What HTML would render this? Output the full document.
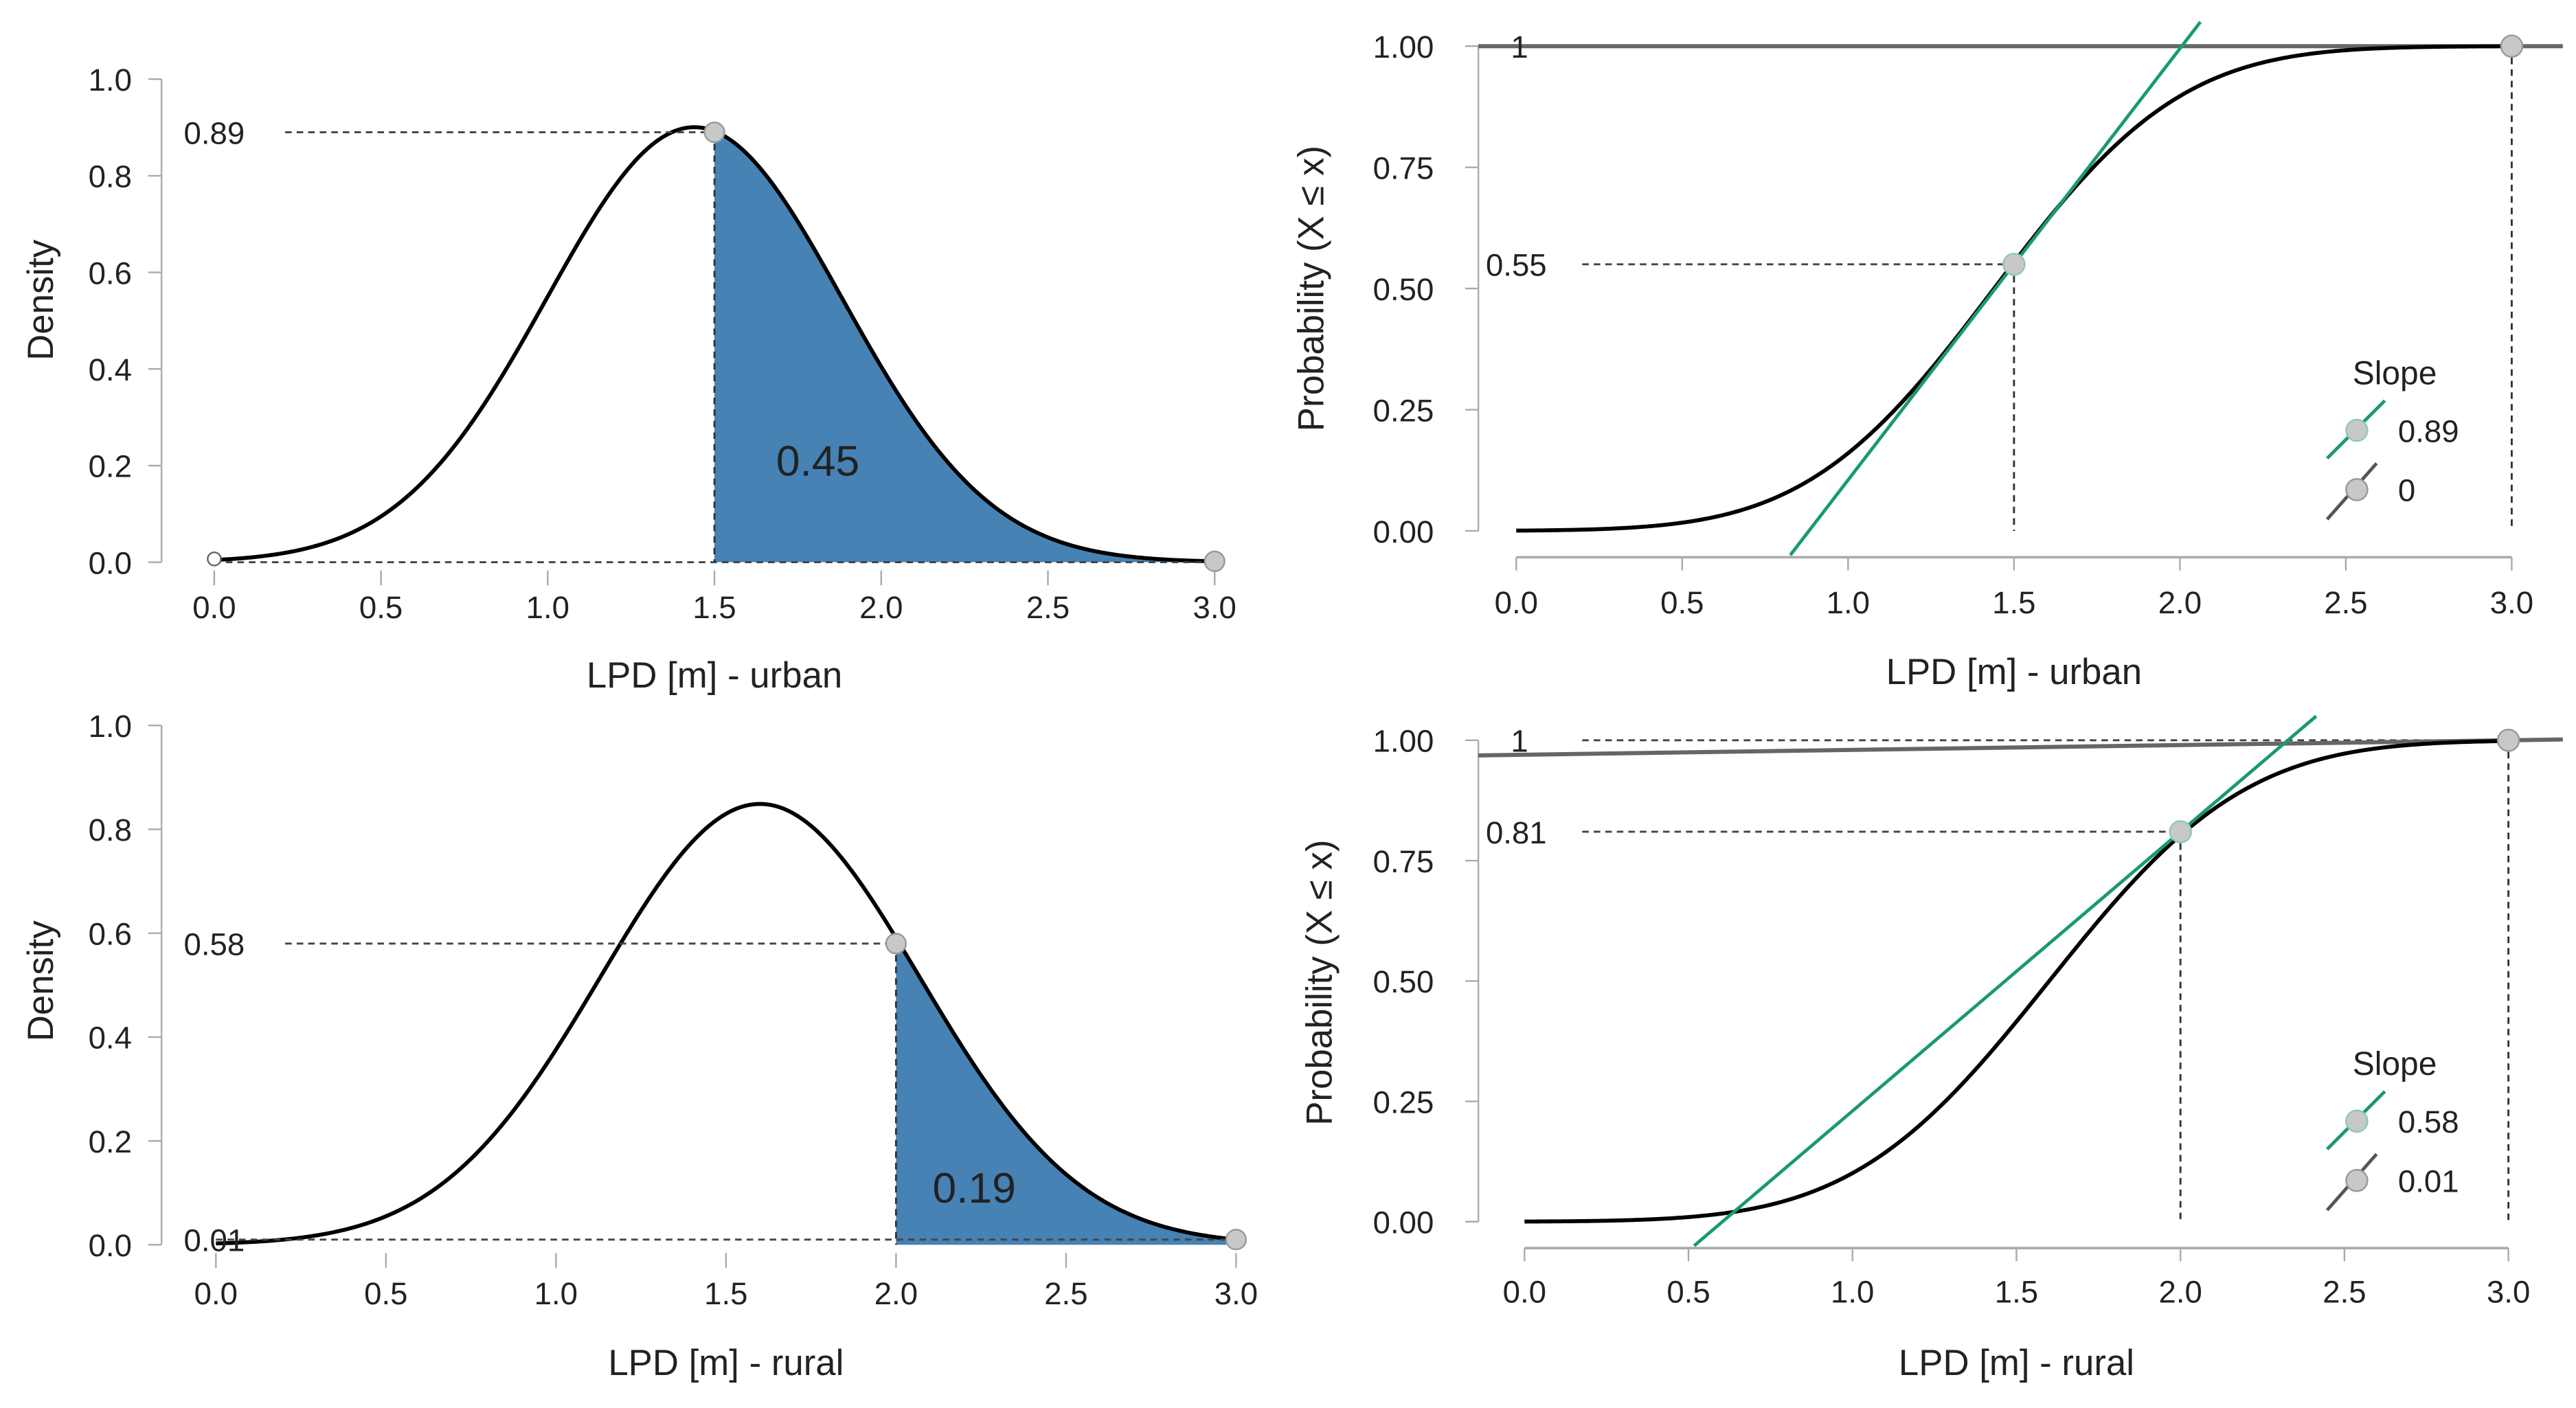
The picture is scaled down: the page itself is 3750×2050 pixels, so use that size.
<!DOCTYPE html>
<html><head><meta charset="utf-8"><style>
html,body{margin:0;padding:0;background:#fff;}
svg{display:block;}
text{font-family:"Liberation Sans",sans-serif;fill:#222;}
</style></head><body>
<svg id="fig" width="3750" height="2050" viewBox="0 0 1563 854" preserveAspectRatio="none" xmlns="http://www.w3.org/2000/svg"></svg>
<script>
// ---- data ----
const xTicks = [0, 0.5, 1.0, 1.5, 2.0, 2.5, 3.0];
const xTickLabels = ["0.0","0.5","1.0","1.5","2.0","2.5","3.0"];
const densTicks = [0, 0.2, 0.4, 0.6, 0.8, 1.0];
const densTickLabels = ["0.0","0.2","0.4","0.6","0.8","1.0"];
const probTicks = [0, 0.25, 0.5, 0.75, 1.0];
const probTickLabels = ["0.00","0.25","0.50","0.75","1.00"];
const panelNames = ["urban","rural"];
const distMean = [1.44, 1.6];
const distSd = [0.443, 0.47];
const markX = [1.5, 2.0];
const markDensity = [0.89, 0.58];
const markArea = [0.45, 0.19];
const areaLabelX = [1.81, 2.23];
const areaLabelY = [0.21, 0.11];
const markCdf = [0.55, 0.81];
const slopeValues = [0.89, 0.58];
const flatSlope = [0, 0.01];
const endDensity = [0, 0.01];

const svg = document.getElementById('fig');
const NS = 'http://www.w3.org/2000/svg';
function mk(tag, attrs, parent, text){
  const e = document.createElementNS(NS, tag);
  for (const k in attrs) e.setAttribute(k, attrs[k]);
  if (text !== undefined) e.textContent = text;
  (parent || svg).appendChild(e);
  return e;
}
function pdf(x,m,s){return Math.exp(-(x-m)*(x-m)/(2*s*s))/(s*Math.sqrt(2*Math.PI));}
function erf(x){const t=1/(1+0.3275911*Math.abs(x));const y=1-(((((1.061405429*t-1.453152027)*t)+1.421413741)*t-0.284496736)*t+0.254829592)*t*Math.exp(-x*x);return x>=0?y:-y;}
function cdf(x,m,s){return 0.5*(1+erf((x-m)/(s*Math.SQRT2)));}

const densLayout = [
  {axX:98, y0:341, y1:48, x0:130, x3:737, tickY:368, titleY:417, ylabX:32, ylabY:182},
  {axX:98, y0:755, y1:440, x0:131, x3:750, tickY:784, titleY:834, ylabX:32, ylabY:595}
];
const cdfLayout = [
  {axX:897, y0:322, y1:28, x0:920, x3:1524, axisY:338, tickY:365, titleY:415, ylabX:803, ylabY:175, legY:226},
  {axX:897, y0:741, y1:449, x0:925, x3:1522, axisY:757, tickY:783, titleY:834, ylabX:808, ylabY:596, legY:645}
];

function drawDensity(i){
  const L = densLayout[i];
  const g = mk('g', {}, svg);
  
  
  const sx = v => L.x0 + v/3*(L.x3-L.x0);
  const sy = v => L.y0 - v*(L.y0-L.y1);
  const ya = mk('line', {x1:L.axX,y1:sy(1),x2:L.axX,y2:sy(0),stroke:'#aaa','stroke-width':1}, g);
   
  densTicks.forEach((t,k)=>{
    mk('line',{x1:L.axX-8,y1:sy(t),x2:L.axX,y2:sy(t),stroke:'#aaa','stroke-width':1},g);
    const tx = mk('text',{x:L.axX-18,y:sy(t)+7,'text-anchor':'end','font-size':19},g,densTickLabels[k]);
     
  });
  xTicks.forEach((t,k)=>{
    mk('line',{x1:sx(t),y1:L.y0+5,x2:sx(t),y2:L.y0+14,stroke:'#aaa','stroke-width':1},g);
    const tx = mk('text',{x:sx(t),y:L.tickY+7,'text-anchor':'middle','font-size':19},g,xTickLabels[k]);
     
  });
  let d = 'M'+sx(markX[i])+','+sy(0);
  for (let x=markX[i]; x<=3.0001; x+=0.01) d += ' L'+sx(x).toFixed(2)+','+sy(pdf(x,distMean[i],distSd[i])).toFixed(2);
  d += ' L'+sx(3)+','+sy(0)+' Z';
  const area = mk('path',{d:d,fill:'#4682b4',stroke:'none'},g);
   
  let c='';
  for (let x=0; x<=3.0001; x+=0.01) c += (c?' L':'M')+sx(x).toFixed(2)+','+sy(pdf(x,distMean[i],distSd[i])).toFixed(2);
  const cv = mk('path',{d:c,fill:'none',stroke:'#000','stroke-width':2.4},g);
   
  mk('line',{x1:sx(0),y1:sy(endDensity[i]),x2:sx(3),y2:sy(endDensity[i]),stroke:'#444','stroke-width':1.2,'stroke-dasharray':'4,3'},g);
  mk('line',{x1:L.axX+75,y1:sy(markDensity[i]),x2:sx(markX[i]),y2:sy(markDensity[i]),stroke:'#444','stroke-width':1.2,'stroke-dasharray':'4,3'},g);
  mk('line',{x1:sx(markX[i]),y1:sy(markDensity[i]),x2:sx(markX[i]),y2:sy(0),stroke:'#333','stroke-width':1.2,'stroke-dasharray':'4,3'},g);
  const ml = mk('text',{x:L.axX+32,y:sy(markDensity[i])+7,'text-anchor':'middle','font-size':19},g,markDensity[i].toFixed(2));
   
  if (i===1){ mk('text',{x:L.axX+32,y:sy(endDensity[i])+7,'text-anchor':'middle','font-size':19},g,'0.01'); }
  const p1 = mk('circle',{cx:sx(markX[i]),cy:sy(markDensity[i]),r:6,fill:'#c8c8c8',stroke:'#999','stroke-width':1},g);
   
  const p2 = mk('circle',{cx:sx(3),cy:sy(pdf(3,distMean[i],distSd[i])),r:6,fill:'#c8c8c8',stroke:'#999','stroke-width':1},g);
   
  if (i===0){ mk('circle',{cx:sx(0),cy:sy(0)-2,r:4,fill:'#fff',stroke:'#666','stroke-width':1},g); }
  const al = mk('text',{x:sx(areaLabelX[i]),y:sy(areaLabelY[i])+9,'text-anchor':'middle','font-size':26},g,markArea[i].toFixed(2));
   
  const tt = mk('text',{x:(sx(0)+sx(3))/2,y:L.titleY,'text-anchor':'middle','font-size':22},g,'LPD [m] - '+panelNames[i]);
   
  const yt = mk('text',{x:L.ylabX,y:L.ylabY,'text-anchor':'middle','font-size':22,transform:'rotate(-90 '+L.ylabX+' '+L.ylabY+')'},g,'Density');
   
}

function drawCdf(i){
  const L = cdfLayout[i];
  const g = mk('g', {}, svg);
  
  
  const sx = v => L.x0 + v/3*(L.x3-L.x0);
  const sy = v => L.y0 - v*(L.y0-L.y1);
  const ya = mk('line',{x1:L.axX,y1:sy(1),x2:L.axX,y2:sy(0),stroke:'#aaa','stroke-width':1},g);
   
  probTicks.forEach((t,k)=>{
    mk('line',{x1:L.axX-8,y1:sy(t),x2:L.axX,y2:sy(t),stroke:'#aaa','stroke-width':1},g);
    const tx = mk('text',{x:L.axX-27,y:sy(t)+7,'text-anchor':'end','font-size':19},g,probTickLabels[k]);
     
  });
  const xa = mk('line',{x1:sx(0),y1:L.axisY,x2:sx(3),y2:L.axisY,stroke:'#aaa','stroke-width':1.5},g);
   
  xTicks.forEach((t,k)=>{
    mk('line',{x1:sx(t),y1:L.axisY,x2:sx(t),y2:L.axisY+8,stroke:'#aaa','stroke-width':1},g);
    const tx = mk('text',{x:sx(t),y:L.tickY+7,'text-anchor':'middle','font-size':19},g,xTickLabels[k]);
     
  });
  mk('line',{x1:L.axX+63,y1:sy(1),x2:sx(3),y2:sy(1),stroke:'#444','stroke-width':1.2,'stroke-dasharray':'4,3'},g);
  mk('line',{x1:L.axX+63,y1:sy(markCdf[i]),x2:sx(markX[i]),y2:sy(markCdf[i]),stroke:'#444','stroke-width':1.2,'stroke-dasharray':'4,3'},g);
  mk('line',{x1:sx(markX[i]),y1:sy(markCdf[i]),x2:sx(markX[i]),y2:sy(0),stroke:'#333','stroke-width':1.2,'stroke-dasharray':'4,3'},g);
  mk('line',{x1:sx(3),y1:sy(1),x2:sx(3),y2:sy(0),stroke:'#333','stroke-width':1.2,'stroke-dasharray':'4,3'},g);
  const xl = (L.axX - L.x0)/(L.x3-L.x0)*3, xr = (1555 - L.x0)/(L.x3-L.x0)*3;
  const fl = mk('line',{x1:sx(xl),y1:sy(1+flatSlope[i]*(xl-3)),x2:sx(xr),y2:sy(1+flatSlope[i]*(xr-3)),stroke:'#666','stroke-width':2.5},g);
   
  let c='';
  for (let x=0; x<=3.0001; x+=0.01) c += (c?' L':'M')+sx(x).toFixed(2)+','+sy(cdf(x,distMean[i],distSd[i])).toFixed(2);
  const cv = mk('path',{d:c,fill:'none',stroke:'#000','stroke-width':2.4},g);
   
  const yBot = -0.05, yTop = 1.05;
  const xb = markX[i] + (yBot-markCdf[i])/slopeValues[i];
  const xt = markX[i] + (yTop-markCdf[i])/slopeValues[i];
  const tl = mk('line',{x1:sx(xb),y1:sy(yBot),x2:sx(xt),y2:sy(yTop),stroke:'#1a9a6c','stroke-width':2},g);
   
  mk('text',{x:L.axX+25,y:sy(1)+7,'text-anchor':'middle','font-size':19},g,'1');
  const ml = mk('text',{x:L.axX+23,y:sy(markCdf[i])+7,'text-anchor':'middle','font-size':19},g,markCdf[i].toFixed(2));
   
  const p1 = mk('circle',{cx:sx(markX[i]),cy:sy(markCdf[i]),r:6.5,fill:'#c8c8c8',stroke:'#8fc9b0','stroke-width':1},g);
   
  const p2 = mk('circle',{cx:sx(3),cy:sy(1),r:6.5,fill:'#c8c8c8',stroke:'#999','stroke-width':1},g);
   
  const lg = mk('g',{},g);
   
  mk('text',{x:1453,y:L.legY+7,'text-anchor':'middle','font-size':20},lg,'Slope');
  const r1 = L.legY+35, r2 = L.legY+71;
  mk('line',{x1:1412,y1:r1+17,x2:1447,y2:r1-18,stroke:'#1a9a6c','stroke-width':2},lg);
  mk('circle',{cx:1430,cy:r1,r:6.5,fill:'#c8c8c8',stroke:'#8fc9b0','stroke-width':1},lg);
  mk('text',{x:1455,y:r1+7,'font-size':19},lg,String(slopeValues[i]));
  mk('line',{x1:1412,y1:r2+18,x2:1442,y2:r2-16,stroke:'#555','stroke-width':2},lg);
  mk('circle',{cx:1430,cy:r2,r:6.5,fill:'#c8c8c8',stroke:'#999','stroke-width':1},lg);
  mk('text',{x:1455,y:r2+7,'font-size':19},lg,String(flatSlope[i]));
  const tt = mk('text',{x:(sx(0)+sx(3))/2,y:L.titleY,'text-anchor':'middle','font-size':22},g,'LPD [m] - '+panelNames[i]);
   
  const yt = mk('text',{x:L.ylabX,y:L.ylabY,'text-anchor':'middle','font-size':22,transform:'rotate(-90 '+L.ylabX+' '+L.ylabY+')'},g,'Probability (X \u2264 x)');
   
}
drawDensity(0); drawDensity(1); drawCdf(0); drawCdf(1);
</script>
</body></html>
